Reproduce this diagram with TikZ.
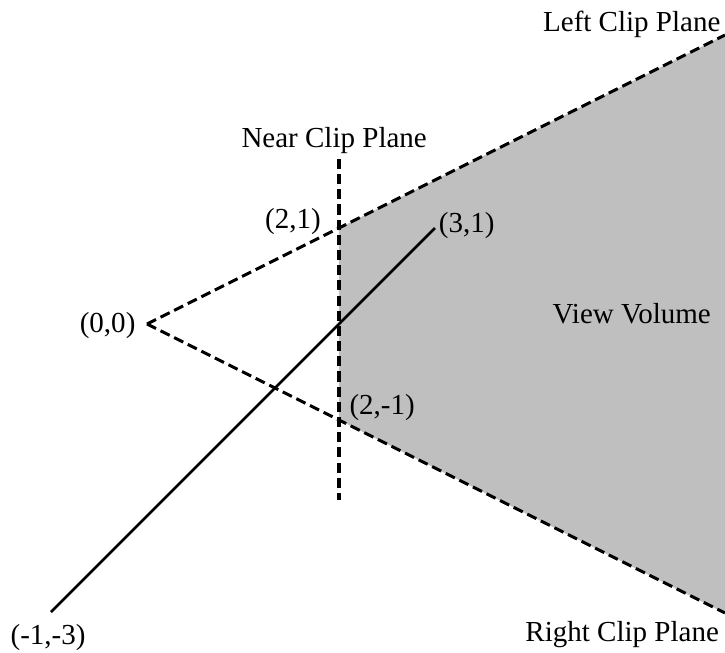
\documentclass[tikz,border=0pt]{standalone}
\usepackage{fontspec}
\setmainfont{Liberation Serif}

\begin{document}
\begin{tikzpicture}[font=\fontsize{8.6}{10}\selectfont,
  clipline/.style={dash pattern=on 3pt off 1.5pt,line width=0.9pt},
  segline/.style={line width=0.8pt},
  lbl/.style={inner sep=0pt}]
  \useasboundingbox (-1.531,-3.417) rectangle (6.021,3.375);
  % ---------------- points ----------------
  \coordinate (O) at (0,0);
  \coordinate (P21) at (2,1);
  \coordinate (P2m1) at (2,-1);
  \coordinate (LF) at (6.02,3.01);
  \coordinate (RF) at (6.02,-3.01);
  \coordinate (NT) at (2,1.72);
  \coordinate (NB) at (2,-1.83);
  \coordinate (A) at (-1,-3);
  \coordinate (B) at (3,1);
  % ---------------- view volume ----------------
  \fill[gray!50] (P21) -- (LF) -- (RF) -- (P2m1) -- cycle;
  \draw[clipline] (O) -- (LF);
  \draw[clipline] (O) -- (RF);
  \draw[clipline] (NT) -- (NB);
  \draw[segline] (A) -- (B);
  % ---------------- labels ----------------
  \node[lbl] (lO) at (-0.41,-0.02) {(0,0)};
  \node[lbl] (lP21) at (1.52,1.07) {(2,1)};
  \node[lbl] (lB) at (3.33,1.03) {(3,1)};
  \node[lbl] (lP2m1) at (2.45,-0.87) {(2,-1)};
  \node[lbl] (lA) at (-1.03,-3.27) {(-1,-3)};
  \node[lbl] (near) at (1.95,1.91) {Near Clip Plane};
  \node[lbl] (left) at (5.05,3.12) {Left Clip Plane};
  \node[lbl] (right) at (4.95,-3.23) {Right Clip Plane};
  \node[lbl] (vol) at (5.05,0.11) {View Volume};
\end{tikzpicture}
\end{document}
